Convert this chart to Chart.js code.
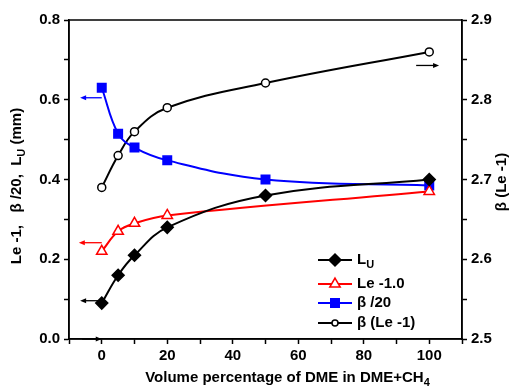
<!DOCTYPE html>
<html>
<head>
<meta charset="utf-8">
<script src="https://cdn.jsdelivr.net/npm/chart.js@4.4.1/dist/chart.umd.min.js"></script>
<style>
  body { margin: 0; background: #fff; }
  #wrap { width: 511px; height: 388px; }
</style>
</head>
<body>
<div id="wrap"><canvas id="chart1" width="511" height="388"></canvas></div>
<script>
// values
var xLu = [0, 5, 10, 20, 50, 100];
var lu = [0.09, 0.16, 0.21, 0.28, 0.36, 0.40];

var xLe = [0, 5, 10, 20, 100];
var le = [0.22, 0.27, 0.29, 0.31, 0.37];

var xBeta = [0, 5, 10, 20, 50, 100];
var beta20 = [0.63, 0.515, 0.48, 0.448, 0.40, 0.385];

var xBetaLe = [0, 5, 10, 20, 50, 100];
var betaLe = [2.69, 2.73, 2.76, 2.79, 2.821, 2.86];

var seriesNames = ['L_U', 'Le -1.0', '\u03b2 /20', '\u03b2 (Le -1)'];

// little arrows telling which axis a curve belongs to
var arrows = [
  { x0: 0, x1: -6.6, y: 0.096, axis: 'y', color: '#000' },
  { x0: 0, x1: -7, y: 0.2415, axis: 'y', color: '#ff0000' },
  { x0: 0, x1: -6.6, y: 0.605, axis: 'y', color: '#0000ff' },
  { x0: 96, x1: 103, y: 2.843, axis: 'y2', color: '#000' },
  { x0: -6, x1: 0, y: 0, axis: 'y', color: '#000' }
];

function pts(xs, ys) {
  return xs.map(function (x, i) { return { x: x, y: ys[i] }; });
}

var FONT = '"Liberation Sans", Arial, sans-serif';

function drawMarker(ctx, style, x, y, r, color, fill) {
  ctx.beginPath();
  if (style == 'rectRot') {
    ctx.moveTo(x, y - r); ctx.lineTo(x + r, y); ctx.lineTo(x, y + r); ctx.lineTo(x - r, y);
  } else if (style == 'rect') {
    var s = r * Math.SQRT1_2;
    ctx.rect(x - s, y - s, 2 * s, 2 * s);
  } else if (style == 'triangle') {
    ctx.moveTo(x, y - r);
    ctx.lineTo(x + r * 0.866, y + r * 0.5);
    ctx.lineTo(x - r * 0.866, y + r * 0.5);
  } else {
    ctx.arc(x, y, r, 0, Math.PI * 2);
  }
  ctx.closePath();
  ctx.fillStyle = fill;
  ctx.fill();
  ctx.lineWidth = 1.5;
  ctx.strokeStyle = color;
  ctx.stroke();
}

// text with one subscript part
function subText(ctx, parts, x, y, align) {
  var big = 'bold 15px ' + FONT, small = 'bold 11px ' + FONT;
  var w = 0;
  parts.forEach(function (p) { ctx.font = p.sub ? small : big; w += ctx.measureText(p.t).width; });
  var cx = align == 'center' ? x - w / 2 : x;
  ctx.textAlign = 'left';
  ctx.textBaseline = 'middle';
  parts.forEach(function (p) {
    ctx.font = p.sub ? small : big;
    ctx.fillText(p.t, cx, p.sub ? y + 5 : y);
    cx += ctx.measureText(p.t).width;
  });
}

var extras = {
  id: 'extras',
  afterDraw: function (chart) {
    var ctx = chart.ctx, a = chart.chartArea, sc = chart.scales;
    ctx.save();
    // frame
    ctx.strokeStyle = '#000';
    ctx.lineWidth = 1.5;
    ctx.strokeRect(a.left, a.top, a.right - a.left, a.bottom - a.top);

    // arrows
    arrows.forEach(function (ar) {
      var px0 = sc.x.getPixelForValue(ar.x0), px1 = sc.x.getPixelForValue(ar.x1);
      var py = sc[ar.axis].getPixelForValue(ar.y);
      var dir = px1 > px0 ? 1 : -1;
      ctx.strokeStyle = ar.color; ctx.fillStyle = ar.color; ctx.lineWidth = 1.3;
      ctx.beginPath(); ctx.moveTo(px0, py); ctx.lineTo(px1 - dir * 4, py); ctx.stroke();
      ctx.beginPath();
      ctx.moveTo(px1, py); ctx.lineTo(px1 - dir * 6, py - 2.5); ctx.lineTo(px1 - dir * 6, py + 2.5);
      ctx.closePath(); ctx.fill();
    });

    // legend
    var rows = [a.bottom - 79, a.bottom - 55, a.bottom - 36, a.bottom - 16];
    var lx0 = a.right - 144, lx1 = a.right - 110, mx = a.right - 127, tx = a.right - 105;
    chart.data.datasets.forEach(function (ds, i) {
      var y = rows[i];
      ctx.strokeStyle = ds.borderColor; ctx.lineWidth = 2;
      ctx.beginPath(); ctx.moveTo(lx0, y); ctx.lineTo(lx1, y); ctx.stroke();
      var r = ds.pointStyle == 'circle' ? 3 : ds.pointRadius;
      drawMarker(ctx, ds.pointStyle, mx, y, r, ds.pointBorderColor, ds.pointBackgroundColor);
      ctx.fillStyle = '#000';
      if (i == 0) subText(ctx, [{ t: 'L' }, { t: 'U', sub: true }], tx, y, 'left');
      else subText(ctx, [{ t: seriesNames[i] }], tx, y, 'left');
    });

    // axis titles
    ctx.fillStyle = '#000';
    subText(ctx, [{ t: 'Volume percentage of DME in DME+CH' }, { t: '4', sub: true }],
      (a.left + a.right) / 2 + 22, a.bottom + 39, 'center');

    ctx.save();
    ctx.translate(17, 186);
    ctx.rotate(-Math.PI / 2);
    subText(ctx, [{ t: 'Le -1,   \u03b2 /20,  L' }, { t: 'U', sub: true }, { t: ' (mm)' }], 0, 0, 'center');
    ctx.restore();

    ctx.save();
    ctx.translate(a.right + 40, 182);
    ctx.rotate(-Math.PI / 2);
    subText(ctx, [{ t: '\u03b2 (Le -1)' }], 0, 0, 'center');
    ctx.restore();

    ctx.restore();
  }
};

var tickFont = { family: FONT, size: 15, weight: 'bold' };
var axisGrid = { drawOnChartArea: false, color: '#000', tickLength: 5, tickWidth: 1.5 };
var axisBorder = { display: true, color: '#000', width: 1.5 };

function line(label, xs, ys, color, style, radius, fill, axis) {
  return {
    label: label,
    data: pts(xs, ys),
    yAxisID: axis,
    borderColor: color,
    borderWidth: 2,
    showLine: true,
    tension: 0.4,
    pointStyle: style,
    pointRadius: radius,
    pointHoverRadius: radius,
    pointBorderColor: color,
    pointBackgroundColor: fill,
    pointBorderWidth: 1.5
  };
}

var config = {
  type: 'scatter',
  data: {
    datasets: [
      line(seriesNames[0], xLu, lu, '#000000', 'rectRot', 6, '#000000', 'y'),
      line(seriesNames[1], xLe, le, '#ff0000', 'triangle', 6, '#ffffff', 'y'),
      line(seriesNames[2], xBeta, beta20, '#0000ff', 'rect', 6, '#0000ff', 'y'),
      line(seriesNames[3], xBetaLe, betaLe, '#000000', 'circle', 4, '#ffffff', 'y2')
    ]
  },
  options: {
    responsive: false,
    animation: false,
    layout: { padding: { top: 20 } },
    plugins: { legend: { display: false }, tooltip: { enabled: false } },
    scales: {
      x: {
        type: 'linear', min: -10, max: 110,
        border: axisBorder, grid: axisGrid,
        afterFit: function (s) { s.height = 49; },
        ticks: {
          stepSize: 10, autoSkip: false, maxRotation: 0, padding: 3,
          color: '#000', font: tickFont,
          callback: function (v) { return (v >= 0 && v <= 100 && v % 20 == 0) ? String(v) : ''; }
        }
      },
      y: {
        position: 'left', min: 0, max: 0.8,
        border: axisBorder, grid: axisGrid,
        afterFit: function (s) { s.width = 69; },
        ticks: {
          stepSize: 0.1, autoSkip: false, padding: 4,
          color: '#000', font: tickFont,
          callback: function (v) { return Math.round(v * 10) % 2 == 0 ? v.toFixed(1) : ''; }
        }
      },
      y2: {
        position: 'right', min: 2.5, max: 2.9,
        border: axisBorder, grid: axisGrid,
        afterFit: function (s) { s.width = 49; },
        ticks: {
          stepSize: 0.05, autoSkip: false, padding: 4,
          color: '#000', font: tickFont,
          callback: function (v) { return Math.round(v * 100) % 10 == 0 ? v.toFixed(1) : ''; }
        }
      }
    }
  },
  plugins: [extras]
};

var ctx1 = document.getElementById('chart1');
var myChart = new Chart(ctx1, config);
</script>
</body>
</html>
